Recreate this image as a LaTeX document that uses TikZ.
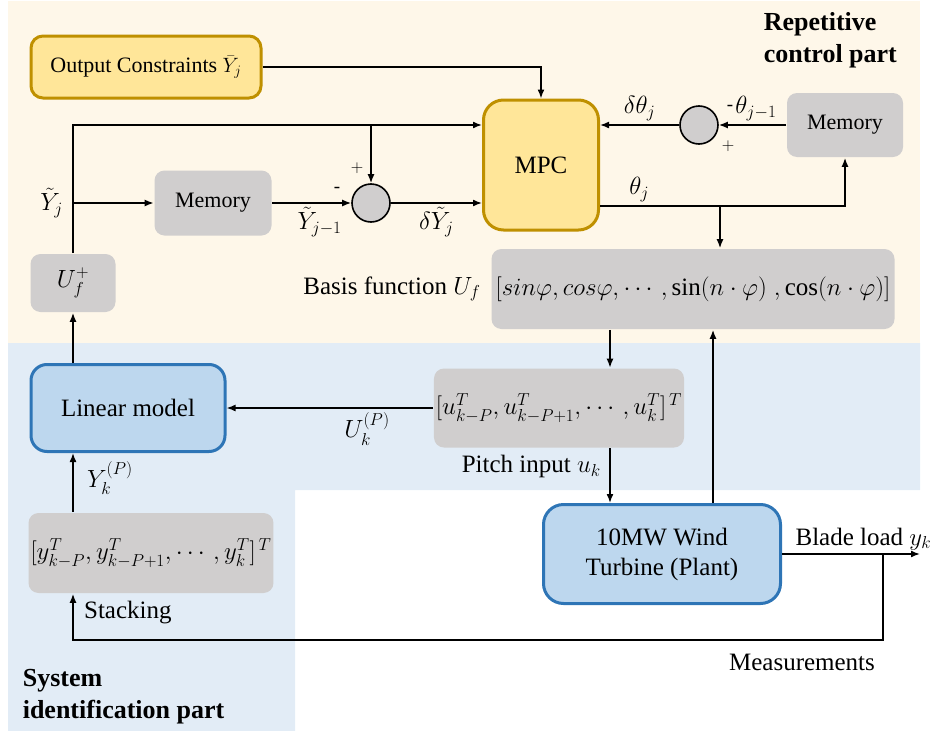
\documentclass[tikz,border=0pt]{standalone}
\usepackage{amsmath}
\usepackage{fontspec}
\setmainfont{Liberation Serif}
\usetikzlibrary{arrows.meta, positioning, calc}

\definecolor{ctrlbg}{HTML}{FEF7E9}
\definecolor{sysbg}{HTML}{E2ECF6}
\definecolor{memgray}{HTML}{D0CECE}
\definecolor{mpcfill}{HTML}{FFE699}
\definecolor{mpcedge}{HTML}{BF9000}
\definecolor{plantfill}{HTML}{BDD7EE}
\definecolor{plantedge}{HTML}{2E75B6}

\begin{document}
\begin{tikzpicture}[
  x=1pt, y=-1pt,
  >={Latex[length=9pt,width=7pt]}, line width=1.6pt,
  font=\fontsize{25}{30}\selectfont,
  gbox/.style  = {fill=memgray, rounded corners=10pt, inner sep=2pt},
  ybox/.style  = {fill=mpcfill, draw=mpcedge, line width=3pt, rounded corners=12pt},
  bbox/.style  = {fill=plantfill, draw=plantedge, line width=3pt, rounded corners=16pt},
  sum/.style   = {draw, circle, fill=memgray, inner sep=0pt, minimum size=38pt},
  sgn/.style   = {font=\fontsize{19}{20}\selectfont, inner sep=0pt},
  small/.style = {font=\fontsize{22}{26}\selectfont},
  title/.style = {font=\fontsize{26}{32}\selectfont\bfseries, align=left, anchor=north west, inner sep=0pt},
]
  \useasboundingbox (0,0) rectangle (938,731);

  % the two parts
  \fill[ctrlbg] (8,1) rectangle (920,343);
  \fill[sysbg] (8,343) -- (920,343) -- (920,490) -- (295,490) -- (295,731) -- (8,731) -- cycle;

  \node[title] (ctrltitle)  at (763,12)  {Repetitive\\control part};
  \node[title] (sysidtitle) at (22,668)  {System\\identification part};

  % repetitive control part
  \node[ybox, small, minimum width=230pt, minimum height=62pt] (cons) at (146,67) {Output Constraints $\bar{Y}_j$};
  \node[ybox, rounded corners=20pt, minimum width=115pt, minimum height=130pt] (mpc) at (541,165) {MPC};
  \node[sum]                                                  (sumR)  at (699,125) {};
  \node[gbox, small, minimum width=116pt, minimum height=64pt] (memR)  at (845,125) {Memory};
  \node[gbox, small, minimum width=117pt, minimum height=65pt] (memL)  at (213,203) {Memory};
  \node[sum]                                                  (sumL)  at (371,203) {};
  \node[gbox, minimum width=85pt, minimum height=58pt]        (uplus) at (73,283)  {$U_f^+$};
  \node[gbox, minimum width=403pt, minimum height=80pt]       (basis) at (693,289)
    {$[sin\varphi, cos\varphi, \cdots, \sin(n\cdot\varphi)\;, \cos(n\cdot\varphi)]$};
  \node[left=6pt of basis] (bflabel) {Basis function $U_f$};

  % system identification part
  \node[bbox, minimum width=194pt, minimum height=87pt] (linmod) at (128,408) {Linear model};
  \node[gbox, minimum width=238pt, minimum height=79pt] (ustack) at (559,408)
    {$[u^T_{k-P}, u^T_{k-P+1}, \cdots, u^T_k]^{\,T}$};
  \node[bbox, rounded corners=20pt, align=center, minimum width=237pt, minimum height=99pt] (plant) at (662,554)
    {10MW Wind\\Turbine (Plant)};
  \node[gbox, minimum width=240pt, minimum height=80pt] (ystack) at (151,553)
    {$[y^T_{k-P}, y^T_{k-P+1}, \cdots, y^T_k]^{\,T}$};

  \node[sgn] at ($(sumL)+(-14,-35)$) {$+$};
  \node[sgn] at ($(sumL)+(-34,-13)$) {-};
  \node[sgn] at ($(sumR)+(31,-17)$)  {-};
  \node[sgn] at ($(sumR)+(29,21)$)   {$+$};

  \coordinate (ytop) at (73,125);
  \coordinate (yj)   at (73,203);
  \coordinate (thj)  at (600,206);
  \coordinate (thbr) at (720,206);
  \coordinate (ucol) at (610,0);
  \coordinate (pcol) at (713,0);
  \coordinate (yout) at (920,554);
  \coordinate (meas) at (883,554);
  \coordinate (mbot) at (883,640);

  \draw[->] (cons.east) -| (mpc.north);
  \draw[->] (uplus.north) |- (mpc.west |- ytop);
  \draw[->] (sumL.north |- ytop) -- (sumL.north);
  \draw[->] (yj) -- node[pos=0, left=6pt]{$\tilde{Y}_j$} (memL.west);
  \draw[->] (memL.east) -- node[below, pos=0.6]{$\tilde{Y}_{j-1}$} (sumL.west);
  \draw[->] (sumL.east) -- node[below]{$\delta\tilde{Y}_j$} (mpc.west |- sumL.east);
  \draw[->] (memR.west) -- node[above, pos=0.45]{$\theta_{j-1}$} (sumR.east);
  \draw[->] (sumR.west) -- node[above]{$\delta\theta_j$} (mpc.east |- sumR.west);
  \draw[->] (thj) -| node[above, pos=0.08]{$\theta_j$} (memR.south);
  \draw[->] (thbr) -- (thbr |- basis.north);

  \draw[->] (basis.south -| ucol) -- (ustack.north -| ucol);
  \draw[->] (ustack.south -| ucol) -- node[left=5pt, pos=0.34]{Pitch input $u_k$} (plant.north -| ucol);
  \draw[->] (plant.north -| pcol) -- (basis.south -| pcol);
  \draw[->] (ustack.west) -- node[below, pos=0.32]{$U_k^{(P)}$} (linmod.east);
  \draw[->] (linmod.north -| uplus) -- (uplus.south);
  \draw[->] (ystack.north -| uplus) -- node[right=10pt, pos=0.58]{$Y_k^{(P)}$} (linmod.south -| uplus);

  \draw[->] (plant.east) -- node[above, pos=0.59]{Blade load $y_k$} (yout);
  \draw[->] (meas) -- (mbot) -| node[below=10pt, pos=0.05]{Measurements}
    node[right=7pt, pos=0.8]{Stacking} (ystack.south -| uplus);
\end{tikzpicture}
\end{document}
